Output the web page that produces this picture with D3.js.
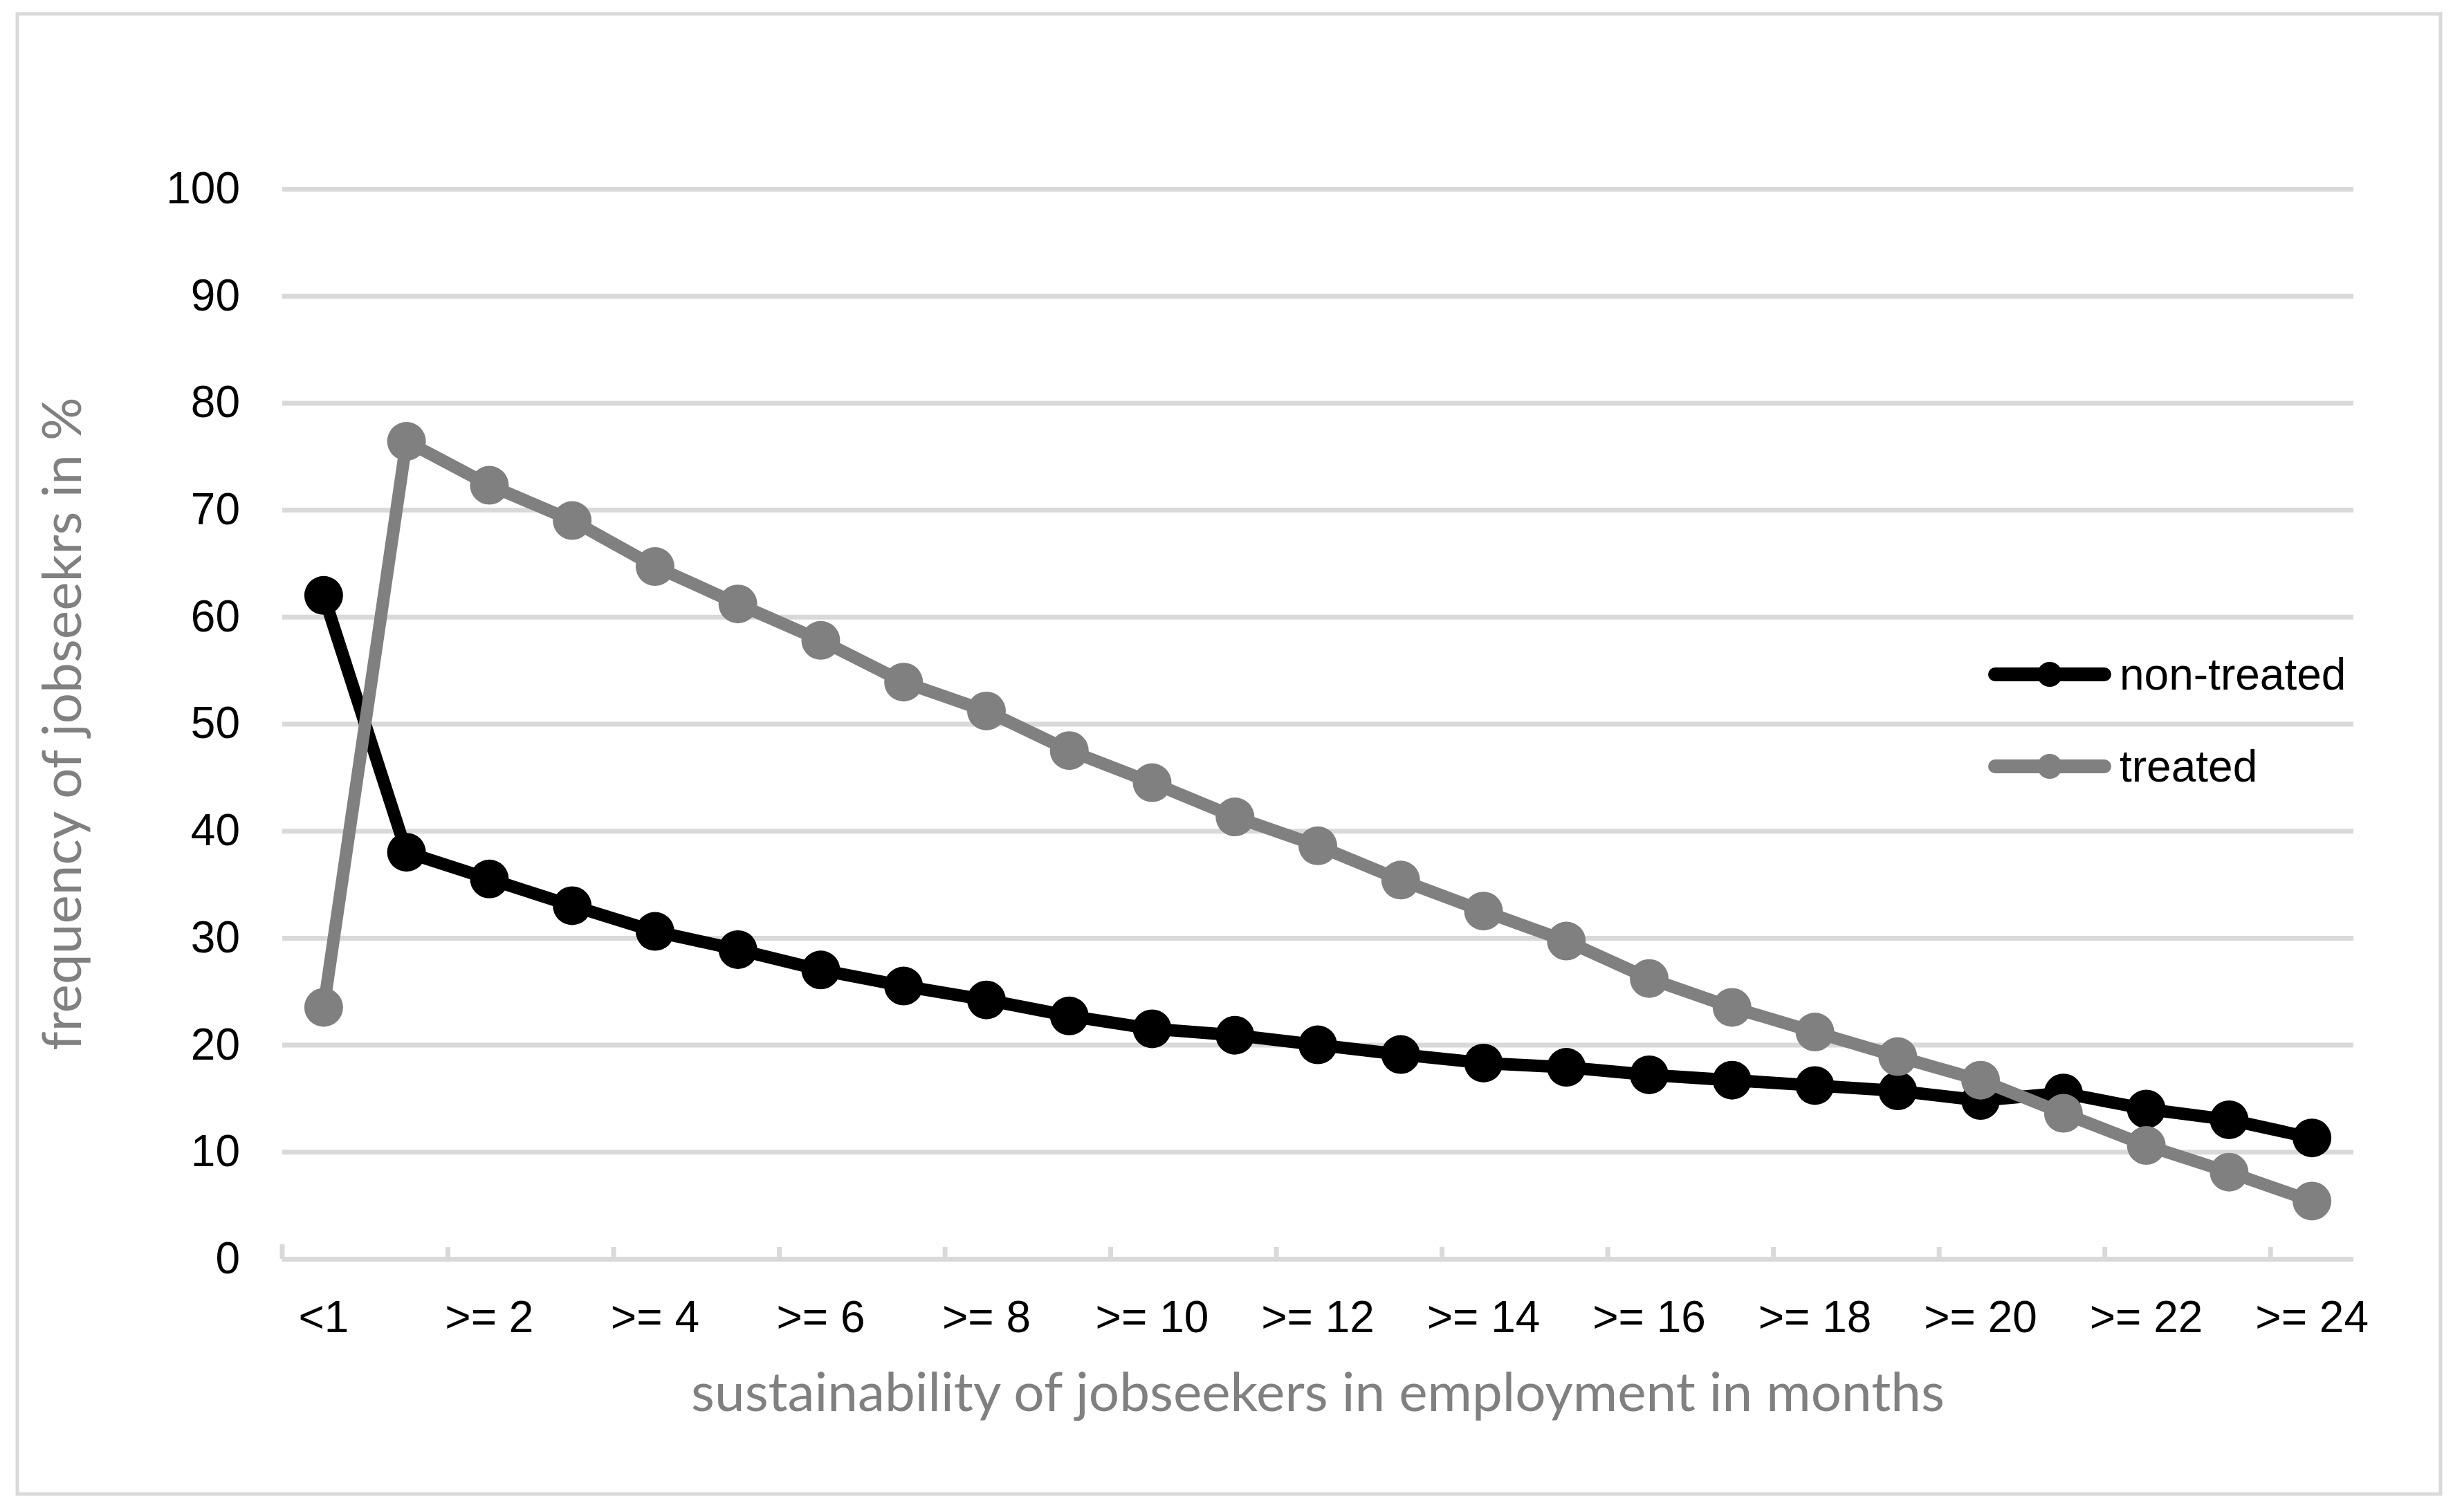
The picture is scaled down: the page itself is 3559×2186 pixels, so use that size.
<!DOCTYPE html>
<html>
<head>
<meta charset="utf-8">
<script src="https://cdn.jsdelivr.net/npm/d3@7"></script>
<style>
body { margin: 0; background: #fff; }
svg { display: block; }
</style>
</head>
<body>
<svg id="chart" width="3559" height="2186"></svg>
<script>
// categories: months in employment
const categories = ["<1"].concat(d3.range(1, 25).map(m => ">= " + m));
const nonTreated = [62.0, 38.0, 35.5, 33.0, 30.6, 28.9, 27.0, 25.5, 24.2, 22.7, 21.5, 20.9, 20.0,
	19.1, 18.3, 17.9, 17.2, 16.7, 16.2, 15.7, 14.8, 15.5, 14.0, 13.0, 11.3];
const treated = [23.5, 76.4, 72.3, 69.0, 64.7, 61.2, 57.8, 53.9, 51.2, 47.5, 44.5, 41.3, 38.6,
	35.4, 32.5, 29.7, 26.2, 23.5, 21.2, 18.9, 16.7, 13.6, 10.6, 8.1, 5.4];
const yTicks = [0, 10, 20, 30, 40, 50, 60, 70, 80, 90, 100];
const seriesNames = ["non-treated", "treated"];

let margin = {top: 273, right: 157, bottom: 366, left: 408};
let width = 3559;
let height = 2186;
let grid = "#d9d9d9";
let tickFont = "'Liberation Sans', Arial, sans-serif";
let titleFont = "Lato, 'Open Sans', sans-serif";

let svg = d3.select("#chart");

svg.append("rect")
	.attr("x", 25).attr("y", 20)
	.attr("width", 3503).attr("height", 2140)
	.attr("fill", "#fff")
	.attr("stroke", grid)
	.attr("stroke-width", 5);

let x = d3.scaleBand()
	.domain(categories)
	.range([margin.left, width - margin.right]);
let y = d3.scaleLinear()
	.domain([0, 100])
	.range([height - margin.bottom, margin.top]);

// y axis with gridlines
let yAxis = svg.append("g")
	.attr("transform", `translate(${margin.left},0)`)
	.call(d3.axisLeft(y).tickValues(yTicks)
		.tickSize(-(width - margin.left - margin.right))
		.tickPadding(61));
yAxis.select(".domain").remove();
yAxis.selectAll(".tick line")
	.attr("stroke", grid)
	.attr("stroke-width", 7);
yAxis.selectAll(".tick text")
	.attr("font-family", tickFont)
	.attr("font-size", 64)
	.attr("fill", "#000");

// x axis labels every second category
let xAxis = svg.append("g")
	.attr("transform", `translate(0,${height - margin.bottom})`)
	.call(d3.axisBottom(x)
		.tickValues(categories.filter((c, i) => i % 2 == 0))
		.tickSize(0)
		.tickPadding(61));
xAxis.select(".domain").remove();
xAxis.selectAll(".tick text")
	.attr("font-family", tickFont)
	.attr("font-size", 64)
	.attr("fill", "#000");

// tick marks on band edges, pointing up
svg.append("g")
	.selectAll("line")
	.data(categories.filter((c, i) => i % 2 == 0))
	.join("line")
	.attr("x1", d => x(d))
	.attr("x2", d => x(d))
	.attr("y1", y(0))
	.attr("y2", (d, i) => y(0) - (i == 0 ? 21 : 17))
	.attr("stroke", grid)
	.attr("stroke-width", 7);

// series
let line = d3.line()
	.x((d, i) => x(categories[i]) + x.bandwidth() / 2)
	.y(d => y(d));
let series = [
	{name: seriesNames[0], values: nonTreated, color: "#000000"},
	{name: seriesNames[1], values: treated, color: "#808080"}
];
series.forEach(s => {
	let g = svg.append("g");
	g.append("path")
		.datum(s.values)
		.attr("d", line)
		.attr("fill", "none")
		.attr("stroke", s.color)
		.attr("stroke-width", 18)
		.attr("stroke-linejoin", "round");
	g.selectAll("circle")
		.data(s.values)
		.join("circle")
		.attr("cx", (d, i) => x(categories[i]) + x.bandwidth() / 2)
		.attr("cy", d => y(d))
		.attr("r", 28)
		.attr("fill", s.color);
});

// legend
let legend = svg.append("g");
series.forEach((s, i) => {
	let ly = 975 + i * 133;
	legend.append("line")
		.attr("x1", 2884).attr("x2", 3042)
		.attr("y1", ly).attr("y2", ly)
		.attr("stroke", s.color)
		.attr("stroke-width", 20)
		.attr("stroke-linecap", "round");
	legend.append("circle")
		.attr("cx", 2963).attr("cy", ly)
		.attr("r", 18)
		.attr("fill", s.color);
	legend.append("text")
		.attr("x", 3064).attr("y", ly)
		.attr("dy", "0.35em")
		.attr("font-family", tickFont)
		.attr("font-size", 64)
		.attr("fill", "#000")
		.text(s.name);
});

// axis titles
let xTitle = svg.append("text")
	.attr("x", (margin.left + width - margin.right) / 2)
	.attr("y", 2040)
	.attr("text-anchor", "middle")
	.attr("font-family", titleFont)
	.attr("font-size", 80)
	.attr("fill", "#808080")
	.text("sustainability of jobseekers in employment in months");
// fit the title to the width it has in the picture
let fs = 80 * 1812 / xTitle.node().getComputedTextLength();
xTitle.attr("font-size", fs);

svg.append("text")
	.attr("transform", `translate(117,${(y(0) + y(100)) / 2}) rotate(-90)`)
	.attr("text-anchor", "middle")
	.attr("font-family", titleFont)
	.attr("font-size", fs)
	.attr("fill", "#808080")
	.text("frequency of jobseekrs in %");
</script>
</body>
</html>
